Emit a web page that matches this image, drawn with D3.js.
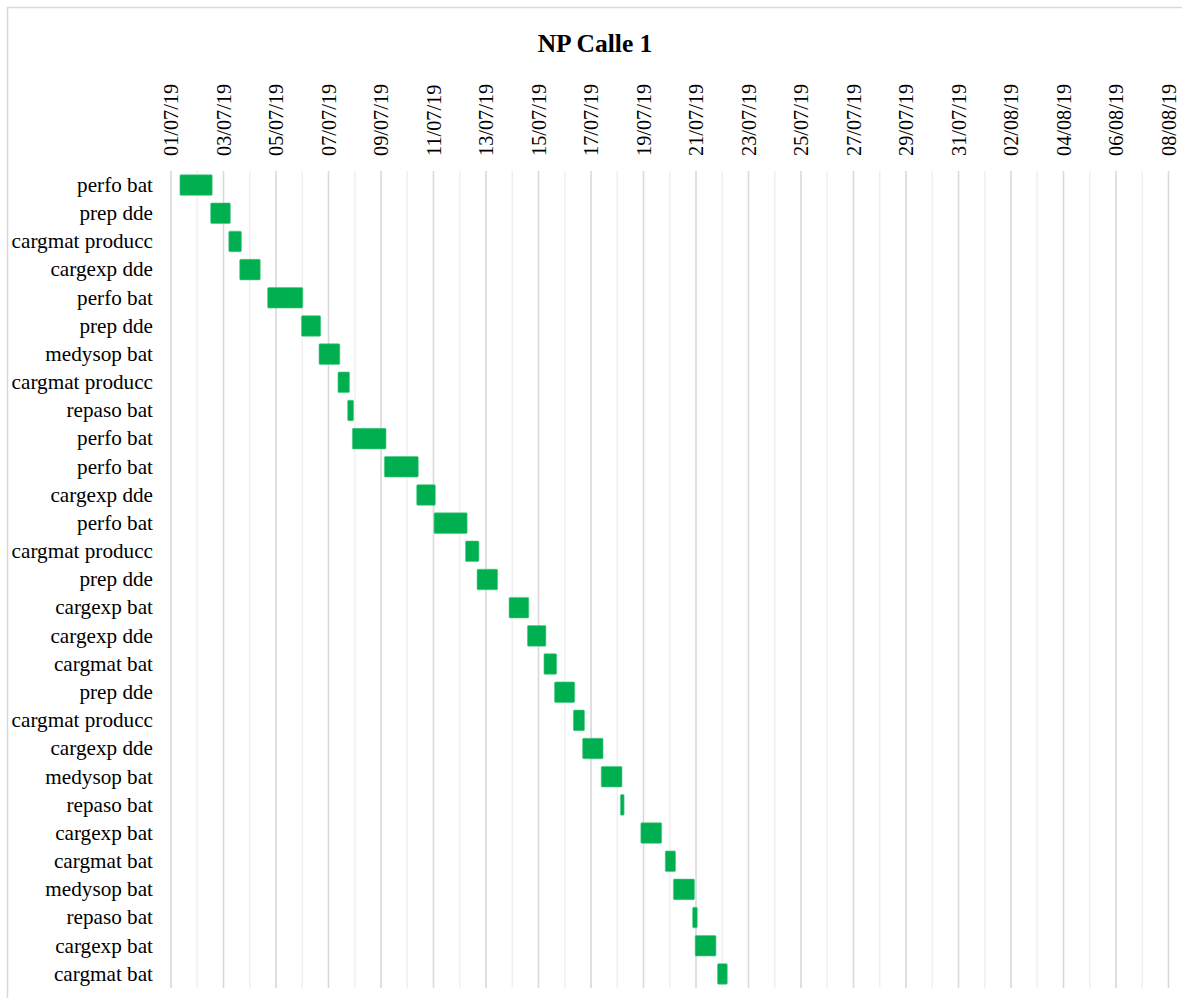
<!DOCTYPE html>
<html>
<head>
<meta charset="utf-8">
<script src="https://cdn.jsdelivr.net/npm/d3@7/dist/d3.min.js"></script>
<style>
  html, body { margin: 0; padding: 0; background: #fff; }
  svg { display: block; }
  svg text { font-family: "Liberation Serif", "Times New Roman", serif; }
</style>
</head>
<body>
<div id="chart"></div>
<script>
// Task names, one per row (top to bottom)
const tasks = [
  "perfo bat", "prep dde", "cargmat producc", "cargexp dde", "perfo bat",
  "prep dde", "medysop bat", "cargmat producc", "repaso bat", "perfo bat",
  "perfo bat", "cargexp dde", "perfo bat", "cargmat producc", "prep dde",
  "cargexp bat", "cargexp dde", "cargmat bat", "prep dde", "cargmat producc",
  "cargexp dde", "medysop bat", "repaso bat", "cargexp bat", "cargmat bat",
  "medysop bat", "repaso bat", "cargexp bat", "cargmat bat"
];

// Start of each task
const starts = [
  "2019-07-01 08:10", "2019-07-02 12:15", "2019-07-03 04:50", "2019-07-03 14:50", "2019-07-04 16:20",
  "2019-07-05 23:15", "2019-07-06 15:20", "2019-07-07 08:40", "2019-07-07 17:30", "2019-07-07 21:50",
  "2019-07-09 03:05", "2019-07-10 08:40", "2019-07-11 00:30", "2019-07-12 05:15", "2019-07-12 15:50",
  "2019-07-13 21:05", "2019-07-14 13:55", "2019-07-15 05:00", "2019-07-15 14:40", "2019-07-16 07:55",
  "2019-07-16 16:20", "2019-07-17 09:20", "2019-07-18 02:55", "2019-07-18 21:35", "2019-07-19 19:55",
  "2019-07-20 03:20", "2019-07-20 20:55", "2019-07-20 23:15", "2019-07-21 19:40"
];

// End of each task
const ends = [
  "2019-07-02 13:40", "2019-07-03 06:15", "2019-07-03 16:20", "2019-07-04 09:35", "2019-07-06 00:30",
  "2019-07-06 16:50", "2019-07-07 10:20", "2019-07-07 19:10", "2019-07-07 22:50", "2019-07-09 04:35",
  "2019-07-10 10:05", "2019-07-11 01:40", "2019-07-12 06:45", "2019-07-12 17:30", "2019-07-13 10:35",
  "2019-07-14 15:05", "2019-07-15 06:45", "2019-07-15 16:35", "2019-07-16 09:05", "2019-07-16 18:00",
  "2019-07-17 11:00", "2019-07-18 04:20", "2019-07-18 06:15", "2019-07-19 16:35", "2019-07-20 05:15",
  "2019-07-20 22:35", "2019-07-21 01:10", "2019-07-21 18:15", "2019-07-22 04:35"
];

// Axis range
const axisStart = "2019-07-01 00:00";
const axisEnd = "2019-08-08 00:00";
const chartTitle = "NP Calle 1";

const W = 1182, H = 998;
const FONT = "'Liberation Serif', 'Times New Roman', serif";
const parse = d3.utcParse("%Y-%m-%d %H:%M");
const fmt = d3.utcFormat("%d/%m/%y");

const rows = tasks.map((name, i) => ({
  idx: i,
  name,
  start: parse(starts[i]),
  end: parse(ends[i])
}));

const margin = { left: 171, right: W - 1168.5, top: 171, bottom: H - 988 };

const svg = d3.select("#chart").append("svg")
  .attr("width", W).attr("height", H)
  .attr("font-family", FONT);

// Outer chart frame
svg.append("rect")
  .attr("x", 7.5).attr("y", 7.5)
  .attr("width", W).attr("height", H)
  .attr("fill", "#fff").attr("stroke", "#d9d9d9").attr("stroke-width", 1.5);

const x = d3.scaleUtc()
  .domain([parse(axisStart), parse(axisEnd)])
  .range([margin.left, W - margin.right]);

const y = d3.scaleBand()
  .domain(rows.map(d => d.idx))
  .range([margin.top, H - margin.bottom])
  .paddingInner(0.27)
  .paddingOuter(0.135);

// Daily gridlines: labelled days darker, the days between lighter
const days = d3.utcDay.range(x.domain()[0], d3.utcDay.offset(x.domain()[1], 1));
const labelled = days.filter((d, i) => i % 2 === 0);

svg.append("g").selectAll("line")
  .data(days)
  .join("line")
  .attr("x1", d => x(d)).attr("x2", d => x(d))
  .attr("y1", margin.top).attr("y2", H - margin.bottom)
  .attr("stroke", (d, i) => i % 2 === 0 ? "#d9d9d9" : "#f0f0f0")
  .attr("stroke-width", 1.6);

// Date axis on top with rotated labels
const xAxis = d3.axisTop(x)
  .tickValues(labelled)
  .tickFormat(fmt)
  .tickSize(0);

const gx = svg.append("g")
  .attr("transform", `translate(0,${margin.top - 15})`)
  .call(xAxis)
  .attr("font-family", FONT);
gx.select(".domain").remove();
gx.selectAll("text")
  .style("font-family", FONT)
  .attr("font-size", 20.3)
  .attr("fill", "#000")
  .attr("text-anchor", "start")
  .attr("transform", "rotate(-90)")
  .attr("x", 0)
  .attr("y", 0)
  .attr("dy", "0.34em");

// Task labels on the left
const yAxis = d3.axisLeft(y)
  .tickFormat(i => rows[i].name)
  .tickSize(0)
  .tickPadding(0);

const gy = svg.append("g")
  .attr("transform", `translate(${margin.left - 18},0)`)
  .call(yAxis)
  .attr("font-family", FONT);
gy.select(".domain").remove();
gy.selectAll("text")
  .style("font-family", FONT)
  .attr("font-size", 21.2)
  .attr("fill", "#000");

// Task bars
svg.append("g").selectAll("rect")
  .data(rows)
  .join("rect")
  .attr("x", d => x(d.start))
  .attr("y", d => y(d.idx))
  .attr("width", d => x(d.end) - x(d.start))
  .attr("height", y.bandwidth())
  .attr("rx", 1)
  .attr("fill", "#00b050")
  .attr("stroke", "#4cc785")
  .attr("stroke-width", 0.6);

// Title
svg.append("text")
  .attr("x", 595)
  .attr("y", 51.5)
  .attr("text-anchor", "middle")
  .style("font-family", FONT)
  .attr("font-weight", "bold")
  .attr("font-size", 25.5)
  .attr("fill", "#000")
  .text(chartTitle);
</script>
</body>
</html>
